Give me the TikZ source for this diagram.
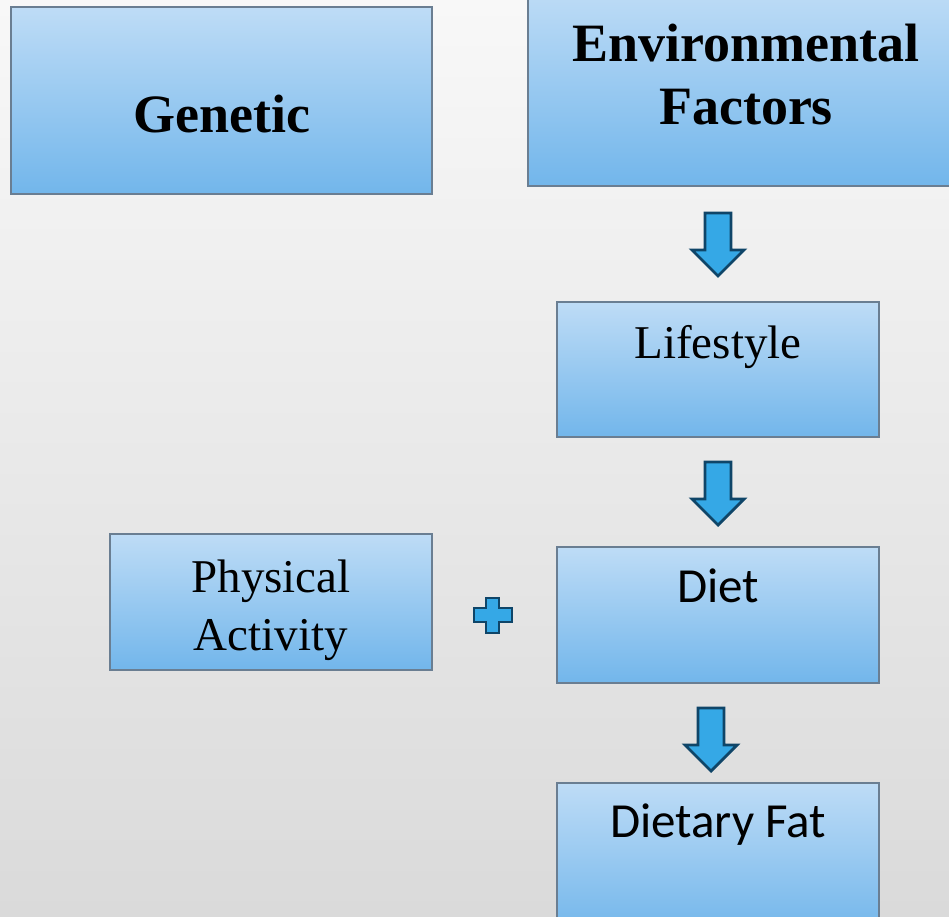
\documentclass[tikz,border=0pt]{standalone}
\usepackage{fontspec}
\setmainfont{Liberation Serif}
\newfontfamily\calib{Carlito}
\definecolor{boxtop}{HTML}{BEDCF6}
\definecolor{boxmid}{HTML}{A4CEF2}
\definecolor{boxbot}{HTML}{72B6EB}
\definecolor{boxline}{HTML}{6A7E92}
\definecolor{arrfill}{HTML}{35A8E6}
\definecolor{arrline}{HTML}{0F4568}
\definecolor{bgtop}{HTML}{F8F8F8}
\definecolor{bgbot}{HTML}{DADADA}
\tikzset{
  box/.style={draw=boxline, line width=1.3pt, top color=boxtop, middle color=boxmid, bottom color=boxbot, inner sep=0pt},
  boldtxt/.style={font=\fontsize{54}{63}\selectfont\bfseries, align=center, inner sep=0pt},
  sertxt/.style={font=\fontsize{47}{57}\selectfont, align=center, inner sep=0pt},
  caltxt/.style={font=\fontsize{49}{57}\selectfont\calib, inner sep=0pt},
  downarrow/.style={fill=arrfill, draw=arrline, line width=2.8pt, line join=miter}
}
\begin{document}
\begin{tikzpicture}[x=1pt,y=-1pt]
\useasboundingbox (0,0) rectangle (949,916);
\shade[top color=bgtop, bottom color=bgbot] (0,0) rectangle (949,916);
% boxes
\node[box, minimum width=421pt, minimum height=187pt] (gen) at (221.5,100.5) {};
\node[box, minimum width=430pt, minimum height=196pt] (env) at (743,88) {};
\node[box, minimum width=322pt, minimum height=135pt] (life) at (718,369.5) {};
\node[box, minimum width=322pt, minimum height=136pt] (diet) at (718,615) {};
\node[box, minimum width=322pt, minimum height=136pt] (phys) at (271,602) {};
\node[box, minimum width=322pt, minimum height=150pt] (fat) at (718,858) {};
% texts
\node[boldtxt, anchor=base] (genT) at (222,132) {Genetic};
\node[boldtxt, anchor=base] (envT1) at (746,61) {Environmental};
\node[boldtxt, anchor=base] (envT2) at (746,124) {Factors};
\node[sertxt, anchor=base] (lifeT) at (718,358) {Lifestyle};
\node[caltxt, anchor=base] (dietT) at (718,602) {Diet};
\node[sertxt, anchor=base] (physT1) at (271,592) {Physical};
\node[sertxt, anchor=base] (physT2) at (271,650) {Activity};
\node[caltxt, anchor=base] (fatT) at (718,837) {Dietary Fat};
% arrows
\foreach \cx/\ty in {718/213, 718/462, 711/708} {
  \draw[downarrow] (\cx-13,\ty) -- (\cx+13,\ty) -- (\cx+13,\ty+37) -- (\cx+26,\ty+37)
    -- (\cx,\ty+63) -- (\cx-26,\ty+37) -- (\cx-13,\ty+37) -- cycle;
}
% plus
\draw[downarrow] (486,598) -- (499,598) -- (499,608) -- (512,608) -- (512,622) -- (499,622)
  -- (499,633) -- (486,633) -- (486,622) -- (474,622) -- (474,608) -- (486,608) -- cycle;
\end{tikzpicture}
\end{document}
